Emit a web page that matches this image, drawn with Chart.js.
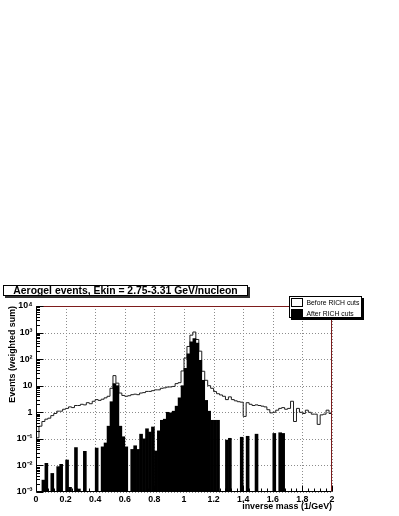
<!DOCTYPE html>
<html><head><meta charset="utf-8">
<script src="https://cdn.jsdelivr.net/npm/chart.js@4.4.1/dist/chart.umd.min.js"></script>
<style>
html,body{margin:0;padding:0;background:#fff;}
#wrap{position:relative;width:399px;height:516px;overflow:hidden;background:#fff;}
#c{position:absolute;left:0;top:0;}
.title{position:absolute;left:3px;top:285px;width:243px;height:9px;border:1px solid #000;background:#fff;box-shadow:2px 2px 0 #333;font:bold 10.4px "Liberation Sans",Arial,sans-serif;line-height:9px;text-align:center;white-space:nowrap;color:#000;}
.legend{position:absolute;left:289px;top:296px;width:71px;height:20px;border:1px solid #000;background:#fff;box-shadow:2px 2px 0 #000;font:6.8px "Liberation Sans",Arial,sans-serif;color:#000;}
.sw{position:absolute;left:1px;width:10px;border:1px solid #000;}
.lt{position:absolute;left:16.5px;line-height:8px;white-space:nowrap;}
</style>
</head><body>
<div id="wrap">
<canvas id="c" width="399" height="516"></canvas>
<div class="title">Aerogel events, Ekin = 2.75-3.31 GeV/nucleon</div>
<div class="legend">
  <div class="sw" style="top:1px;height:7px;background:#fff;"></div>
  <div class="lt" style="top:1.7px;">Before RICH cuts</div>
  <div class="sw" style="top:11.7px;height:6.6px;background:#000;"></div>
  <div class="lt" style="top:13px;">After RICH cuts</div>
</div>
</div>
<script>
// ---- data (100 bins of width 0.02 in inverse mass, 0..2 1/GeV) ----
const binWidth = 0.02;
const beforeCuts = [
  0.11, 0.3, 0.45, 0.55, 0.6, 0.75, 0.9, 1.1, 1.1, 1.3,
  1.4, 1.6, 1.5, 1.8, 1.8, 2.0, 1.9, 2.3, 2.1, 2.6,
  3.0, 2.8, 3.1, 3.5, 4.0, 8, 24, 12.5, 5.3, 4.3,
  4.0, 4.2, 4.6, 4.8, 4.6, 5.3, 5.5, 6.1, 6.1, 6.5,
  7.0, 7.0, 8.0, 8.3, 8.9, 9.0, 9.4, 12, 13, 36,
  110, 300, 800, 1050, 550, 200, 35, 16, 10, 8,
  6, 5, 4.5, 4, 3, 3.8, 3, 2.7, 2.5, 2.4,
  0.7, 2.3, 2.0, 1.8, 1.9, 1.8, 1.7, 1.6, 1.25, 0.95,
  1.0, 1.2, 1.4, 1.5, 1.3, 1.4, 2.6, 0.45, 1.4, 1.0,
  0.9, 1.2, 1.0, 0.85, 0.85, 0.35, 0.8, 0.85, 1.2, 0.9
];
const afterCuts = [
  null, null, 0.0028, 0.012, null, 0.005, null, 0.009, 0.011, null,
  0.016, 0.0015, null, 0.047, 0.0013, null, 0.034, null, null, null,
  0.045, null, 0.05, 0.07, 0.3, 2.5, 12, 10, 0.3, 0.12,
  0.05, null, 0.04, 0.055, 0.04, 0.15, 0.1, 0.24, 0.18, 0.28,
  0.035, 0.2, 0.5, 0.55, 1.0, 0.95, 1.1, 1.7, 3.5, 10,
  45, 160, 450, 600, 400, 90, 16, 2.8, 1.1, 0.5,
  0.5, 0.5, null, null, 0.09, 0.105, null, null, null, 0.115,
  null, 0.125, null, null, 0.15, null, null, null, null, null,
  0.16, null, 0.17, 0.16, null, null, null, null, null, null,
  null, null, null, null, null, null, null, null, null, null
];
const xTickValues = [0, 0.2, 0.4, 0.6, 0.8, 1, 1.2, 1.4, 1.6, 1.8, 2];
const xTickLabels = ['0', '0.2', '0.4', '0.6', '0.8', '1', '1.2', '1.4', '1.6', '1.8', '2'];
const yTickValues = [1e-3, 1e-2, 1e-1, 1, 10, 1e2, 1e3, 1e4];
const yTickLabels = ['10\u207B\u00B3', '10\u207B\u00B2', '10\u207B\u00B9', '1', '10', '10\u00B2', '10\u00B3', '10\u2074'];
const xMinorStep = 0.04;

// ---- derived structures for the library ----
const binLabels = beforeCuts.map((_, i) => (i * binWidth).toFixed(2));
const beforePoints = beforeCuts.map((v, i) => ({x: i * binWidth, y: v}));
beforePoints.push({x: beforeCuts.length * binWidth, y: beforeCuts[beforeCuts.length - 1]});

const FONT = '"Liberation Sans", Arial, Helvetica, sans-serif';

const gridPlugin = {
  id: 'rootGrid',
  beforeDatasetsDraw(chart) {
    const {ctx, chartArea: a, scales} = chart;
    ctx.save();
    ctx.strokeStyle = '#8c8c8c';
    ctx.lineWidth = 1;
    ctx.setLineDash([1, 2]);
    scales.x.ticks.forEach(t => {
      const px = Math.round(scales.x.getPixelForValue(t.value)) + 0.5;
      ctx.beginPath(); ctx.moveTo(px, a.top); ctx.lineTo(px, a.bottom); ctx.stroke();
    });
    scales.y.ticks.forEach(t => {
      const py = Math.round(scales.y.getPixelForValue(t.value)) + 0.5;
      ctx.beginPath(); ctx.moveTo(a.left, py); ctx.lineTo(a.right, py); ctx.stroke();
    });
    ctx.restore();
  },
  afterDatasetsDraw(chart) {
    const {ctx, chartArea: a, scales} = chart;
    const xs = scales.x, ys = scales.y;
    const L = Math.round(a.left) + 0.5, R = Math.round(a.right) - 0.5;
    const T = Math.round(a.top) + 0.5, B = Math.round(a.bottom) - 0.5;
    ctx.save();
    ctx.setLineDash([]);
    ctx.lineWidth = 1;
    // frame (top/right)
    ctx.strokeStyle = '#7d1c1c';
    ctx.beginPath(); ctx.moveTo(L, T); ctx.lineTo(R, T); ctx.lineTo(R, B); ctx.stroke();
    // axes
    ctx.strokeStyle = '#000';
    ctx.beginPath(); ctx.moveTo(L, T); ctx.lineTo(L, B); ctx.lineTo(R, B); ctx.stroke();
    // y ticks (inside)
    ctx.beginPath();
    ys.ticks.forEach((t, i) => {
      const dec = t.value;
      const py = Math.round(ys.getPixelForValue(dec)) + 0.5;
      ctx.moveTo(L, py); ctx.lineTo(L + 7, py);
      if (i < ys.ticks.length - 1) {
        for (let m = 2; m <= 9; m++) {
          const pm = Math.round(ys.getPixelForValue(dec * m)) + 0.5;
          ctx.moveTo(L, pm); ctx.lineTo(L + 3.5, pm);
        }
      }
    });
    // x ticks (inside)
    xs.ticks.forEach(t => {
      const px = Math.round(xs.getPixelForValue(t.value)) + 0.5;
      ctx.moveTo(px, B); ctx.lineTo(px, B - 6);
    });
    const nMinor = Math.round((xs.max - xs.min) / xMinorStep);
    for (let i = 0; i <= nMinor; i++) {
      const px = Math.round(xs.getPixelForValue(xs.min + i * xMinorStep)) + 0.5;
      ctx.moveTo(px, B); ctx.lineTo(px, B - 3);
    }
    ctx.stroke();
    ctx.restore();
  }
};

new Chart(document.getElementById('c'), {
  data: {
    labels: binLabels,
    datasets: [
      {
        type: 'bar', label: 'After RICH cuts', data: afterCuts,
        xAxisID: 'xb', yAxisID: 'y',
        backgroundColor: '#000', borderWidth: 0,
        barPercentage: 1, categoryPercentage: 1, grouped: false, order: 0
      },
      {
        type: 'line', label: 'Before RICH cuts', data: beforePoints,
        xAxisID: 'x', yAxisID: 'y',
        borderColor: '#1e1e1e', borderWidth: 1, pointRadius: 0,
        stepped: 'before', fill: false, order: 1
      }
    ]
  },
  options: {
    responsive: false, animation: false, devicePixelRatio: 1,
    layout: {padding: {top: 306, right: 67, left: 0, bottom: 0}},
    plugins: {legend: {display: false}, tooltip: {enabled: false}, title: {display: false}},
    scales: {
      x: {
        type: 'linear', position: 'bottom', min: 0, max: 2,
        afterBuildTicks(s) { s.ticks = xTickValues.map(v => ({value: v})); },
        afterFit(s) { s.height = 24; },
        ticks: {
          padding: 2, color: '#000', maxRotation: 0, autoSkip: false,
          font: {family: FONT, size: 8.8, weight: 'bold'},
          callback: (v, i) => xTickLabels[i]
        },
        grid: {display: false, drawTicks: false},
        border: {display: false},
        title: {
          display: true, text: 'inverse mass (1/GeV)', align: 'end', color: '#000',
          font: {family: FONT, size: 8.9, weight: 'bold'},
          padding: {top: 0, bottom: 3.7}
        }
      },
      xb: {type: 'category', display: false, offset: true},
      y: {
        type: 'logarithmic', position: 'left', min: 1e-3, max: 1e4,
        afterBuildTicks(s) { s.ticks = yTickValues.map(v => ({value: v})); },
        afterFit(s) { s.width = 36; },
        ticks: {
          padding: 3.5, color: '#000', autoSkip: false,
          font: {family: FONT, size: 8.8, weight: 'bold'},
          callback: (v, i) => yTickLabels[i]
        },
        grid: {display: false, drawTicks: false},
        border: {display: false},
        title: {
          display: true, text: 'Events (weighted sum)', align: 'end', color: '#000',
          font: {family: FONT, size: 8.9, weight: 'bold'},
          padding: {top: 7.3, bottom: 0}
        }
      }
    }
  },
  plugins: [gridPlugin]
});
</script>
</body></html>
